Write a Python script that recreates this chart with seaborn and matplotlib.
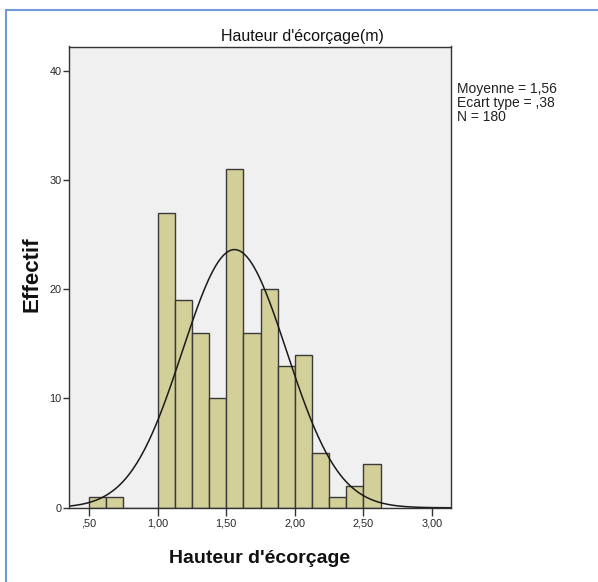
import numpy as np
import pandas as pd
import seaborn as sns
from matplotlib import pyplot as plt
from matplotlib.patches import Rectangle

sns.set_style('white')
plt.rcParams['font.family'] = ['Liberation Sans', 'DejaVu Sans']

# histogram bins (width 0.125) and counts
bin_edges = [0.5, 0.625, 0.75, 0.875, 1.0, 1.125, 1.25, 1.375, 1.5, 1.625,
             1.75, 1.875, 2.0, 2.125, 2.25, 2.375, 2.5, 2.625]
counts = [1, 1, 0, 0, 27, 19, 16, 10, 31, 16, 20, 13, 14, 5, 1, 2, 4]
moyenne = 1.56
ecart_type = 0.38
n = 180
stats_lines = ['Moyenne = 1,56', 'Ecart type = ,38', 'N = 180']
x_ticks = [0.5, 1.0, 1.5, 2.0, 2.5, 3.0]
x_ticklabels = [',50', '1,00', '1,50', '2,00', '2,50', '3,00']
y_ticks = [0, 10, 20, 30, 40]

centers = [(a + b) / 2 for a, b in zip(bin_edges[:-1], bin_edges[1:])]
df = pd.DataFrame({'hauteur': centers, 'effectif': counts})

W, H = 598, 582
fig = plt.figure(figsize=(W / 100, H / 100), dpi=100)
ax = fig.add_axes([69.3 / W, 1 - 507.8 / H, 381.7 / W, 461.3 / H])
ax.set_facecolor('#f0f0f0')

sns.histplot(data=df, x='hauteur', weights='effectif', bins=bin_edges,
             color='#d3cf98', alpha=1, edgecolor='#3a3a3a', linewidth=1, ax=ax)

# normal curve
xlim = (0.356, 3.138)
xs = np.linspace(xlim[0], xlim[1], 300)
bw = bin_edges[1] - bin_edges[0]
ys = n * bw * np.exp(-0.5 * ((xs - moyenne) / ecart_type) ** 2) / (ecart_type * np.sqrt(2 * np.pi))
sns.lineplot(x=xs, y=ys, color='#1a1a1a', linewidth=1.1, ax=ax)

ax.set_xlim(xlim)
ax.set_ylim(0, 42.2)
ax.set_xticks(x_ticks)
ax.set_xticklabels(x_ticklabels)
ax.set_yticks(y_ticks)
ax.tick_params(axis='x', direction='out', length=5.5, width=1, labelsize=7.8,
               color='#333333', pad=2, bottom=True)
ax.tick_params(axis='y', direction='out', length=4.5, width=1, labelsize=7.8,
               color='#333333', pad=1, left=True)
for s in ax.spines.values():
    s.set_color('#333333')
    s.set_linewidth(1)
ax.set_xlabel('')
ax.set_ylabel('')

fig.text(302.5 / W, 1 - 40.7 / H, "Hauteur d'écorçage(m)", ha='center', va='baseline',
         fontsize=11.5, color='#111111')
fig.text(260 / W, 1 - 563 / H, "Hauteur d'écorçage", ha='center', va='baseline',
         fontsize=14, fontweight='bold', color='#111111')
fig.text(31.7 / W, 1 - 274 / H, 'Effectif', rotation=90, ha='center', va='center',
         fontsize=16, fontweight='bold', color='#111111')
fig.text(457 / W, 1 - 82.5 / H, '\n'.join(stats_lines), ha='left', va='top',
         fontsize=10, color='#222222', linespacing=0.98)

# blue frame of the output window
fig.add_artist(Rectangle((5.7 / W, -0.05), 1.2, 1.05 - 10.3 / H,
                         transform=fig.transFigure, fill=False,
                         edgecolor='#6f9ad6', linewidth=1.5))

fig.savefig('out.png', dpi=100)
